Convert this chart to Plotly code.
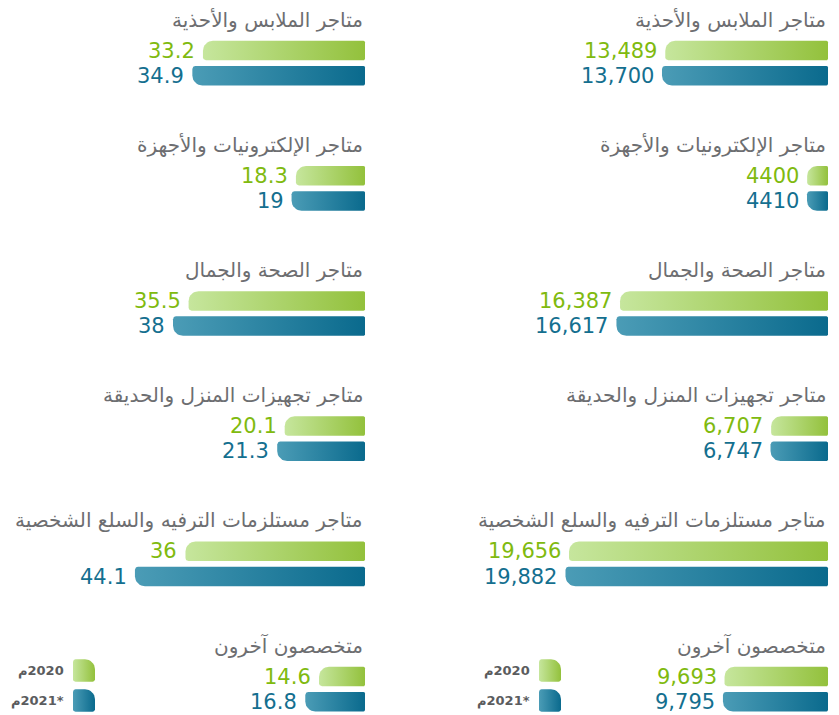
import math
import plotly.graph_objects as go

# the page adds 8px of body margin at the top-left, so the figure is shifted by that
W, H = 839, 715
OFF = 8
FW, FH = W - OFF, H - OFF

# categories (same order in both panels, top to bottom)
categories = [
    "متاجر الملابس والأحذية",
    "متاجر الإلكترونيات والأجهزة",
    "متاجر الصحة والجمال",
    "متاجر تجهيزات المنزل والحديقة",
    "متاجر مستلزمات الترفيه والسلع الشخصية",
    "متخصصون آخرون",
]

# right panel: number of stores
stores_2020 = [13489, 4400, 16387, 6707, 19656, 9693]
stores_2021 = [13700, 4410, 16617, 6747, 19882, 9795]
stores_2020_text = ["13,489", "4400", "16,387", "6,707", "19,656", "9,693"]
stores_2021_text = ["13,700", "4410", "16,617", "6,747", "19,882", "9,795"]

# left panel: second measure
value_2020 = [33.2, 18.3, 35.5, 20.1, 36, 14.6]
value_2021 = [34.9, 19, 38, 21.3, 44.1, 16.8]
value_2020_text = ["33.2", "18.3", "35.5", "20.1", "36", "14.6"]
value_2021_text = ["34.9", "19", "38", "21.3", "44.1", "16.8"]

# LRM keeps the meem on the left of the year, as in the original
years = ["م\u200e2020", "م\u200e2021*"]

GREEN_TXT = "#80ba0f"
BLUE_TXT = "#146f8f"
GRAY = "#6d6e71"
GREEN_FILL = [[0, "#c6e69d"], [1, "#93c13c"]]
BLUE_FILL = [[0, "#4b9cb6"], [1, "#0a6a8d"]]

# screen-pixel layout of each panel: domain, right end of bars, axis base value, px per unit
panels = [
    dict(ax="x", dom=(430, 839), end=828, base=3064, ppu=0.015609,
         v20=stores_2020, v21=stores_2021, t20=stores_2020_text, t21=stores_2021_text,
         leg_x=539, leg_lab=532),
    dict(ax="x2", dom=(8, 400), end=365, base=7.23, ppu=6.24,
         v20=value_2020, v21=value_2021, t20=value_2020_text, t21=value_2021_text,
         leg_x=73, leg_lab=66),
]

ROW0, PITCH, GAP, BAR_H = 50.5, 125.2, 25.2, 19.5


def px_to_data(p, px):
    # axis is reversed: bigger values go left
    return p["base"] + (p["end"] - px) / p["ppu"]


def rounded_box(x0, x1, y0, y1, tl, tr, br, bl, n=8):
    pts = []

    def arc(cx, cy, r, a0, a1):
        for k in range(n + 1):
            a = math.radians(a0 + (a1 - a0) * k / n)
            pts.append((cx + r * math.cos(a), cy + r * math.sin(a)))

    arc(x0 + tl, y0 + tl, tl, 180, 270)
    arc(x1 - tr, y0 + tr, tr, 270, 360)
    arc(x1 - br, y1 - br, br, 0, 90)
    arc(x0 + bl, y1 - bl, bl, 90, 180)
    pts.append(pts[0])
    return pts


def bar_trace(p, value, yc, colors, tl, bl):
    # left end in px comes from the value through the panel's scale
    left = p["end"] - (value - p["base"]) * p["ppu"]
    pts = rounded_box(left, p["end"], yc - BAR_H / 2, yc + BAR_H / 2, tl, 1.5, 1.5, bl)
    return go.Scatter(
        x=[px_to_data(p, q[0]) for q in pts], y=[q[1] for q in pts],
        xaxis=p["ax"], yaxis="y", mode="lines", line=dict(width=0),
        fill="toself", fillgradient=dict(type="horizontal", colorscale=colors),
        hoverinfo="skip", showlegend=False,
    )


fig = go.Figure()
annotations = []

for p in panels:
    for i, cat in enumerate(categories):
        yg = ROW0 + PITCH * i
        yb = yg + GAP
        fig.add_trace(bar_trace(p, p["v20"][i], yg, GREEN_FILL, 10, 3))
        fig.add_trace(bar_trace(p, p["v21"][i], yb, BLUE_FILL, 3, 10))
        annotations.append(dict(
            x=p["base"], y=yg - 31, xref=p["ax"], yref="y", text=cat,
            xanchor="right", yanchor="middle", showarrow=False,
            font=dict(size=20, color=GRAY, family="DejaVu Sans")))
        for val, txt, y, col in [(p["v20"][i], p["t20"][i], yg, GREEN_TXT),
                                 (p["v21"][i], p["t21"][i], yb, BLUE_TXT)]:
            annotations.append(dict(
                x=val, y=y, xref=p["ax"], yref="y", text=txt,
                xanchor="right", yanchor="middle", xshift=-6, showarrow=False,
                font=dict(size=21, color=col, family="DejaVu Sans")))

    # legend swatches
    for k, (cols, yc) in enumerate([(GREEN_FILL, 670.5), (BLUE_FILL, 700.5)]):
        x0 = p["leg_x"]
        pts = rounded_box(x0, x0 + 22, yc - 11.25, yc + 11.25, 2.5, 10, 2.5, 2.5)
        fig.add_trace(go.Scatter(
            x=[px_to_data(p, q[0]) for q in pts], y=[q[1] for q in pts],
            xaxis=p["ax"], yaxis="y", mode="lines", line=dict(width=0),
            fill="toself", fillgradient=dict(type="horizontal", colorscale=cols),
            hoverinfo="skip", showlegend=False))
        annotations.append(dict(
            x=px_to_data(p, p["leg_lab"]), y=yc, xref=p["ax"], yref="y", text=years[k],
            xanchor="right", yanchor="middle", showarrow=False,
            font=dict(size=13, color="#5b5c5e", family="DejaVu Sans", weight="bold")))

layout_axes = {}
for p in panels:
    name = "xaxis" if p["ax"] == "x" else "xaxis2"
    layout_axes[name] = dict(
        domain=[(p["dom"][0] - OFF) / FW, (p["dom"][1] - OFF) / FW],
        range=[px_to_data(p, p["dom"][0]), px_to_data(p, p["dom"][1])],
        visible=False, fixedrange=True, anchor="y")

fig.update_layout(
    width=FW, height=FH,
    margin=dict(l=0, r=0, t=0, b=0),
    paper_bgcolor="white", plot_bgcolor="white",
    yaxis=dict(range=[H, OFF], domain=[0, 1], visible=False, fixedrange=True),
    annotations=annotations,
    showlegend=False,
    **layout_axes,
)

fig.write_html("out.html")
